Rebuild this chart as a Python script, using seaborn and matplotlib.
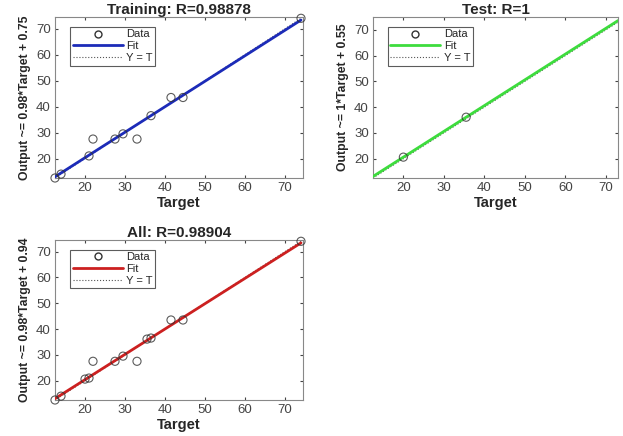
import numpy as np
import pandas as pd
import matplotlib
matplotlib.use("Agg")
import matplotlib.pyplot as plt
import seaborn as sns

# regression data
train_target = [12.5, 14.0, 21.0, 22.0, 27.5, 29.5, 33.0, 36.5, 41.5, 44.5, 74.0]
train_output = [12.5, 14.0, 21.0, 27.5, 27.5, 29.5, 27.5, 36.5, 43.5, 43.5, 74.0]
test_target = [20.0, 35.5]
test_output = [20.6, 36.1]

titles = ["Training: R=0.98878", "Test: R=1", "All: R=0.98904"]
ylabels = ["Output ~= 0.98*Target + 0.75", "Output ~= 1*Target + 0.55",
           "Output ~= 0.98*Target + 0.94"]
fit_colors = ["#1c2bb8", "#3ddc3d", "#cc2020"]

sns.set_style("white")
plt.rcParams["font.family"] = ["Liberation Sans", "DejaVu Sans"]

train = pd.DataFrame({"Target": train_target, "Output": train_output})
test = pd.DataFrame({"Target": test_target, "Output": test_output})
both = pd.concat([train, test], ignore_index=True)

fig = plt.figure(figsize=(6.23, 4.36), dpi=100)
W, H = 623, 436
boxes = [(55, 17, 303, 178), (373, 17, 618, 178), (55, 240, 303, 400)]
frames = [train, test, both]
xlims = [(12.5, 74.5), (12.5, 73), (12.5, 74.5)]
ylims = [(12.5, 74.5), (12.5, 75), (12.5, 74.5)]

for i, (df, box) in enumerate(zip(frames, boxes)):
    l, t, r, b = box
    ax = fig.add_axes([l / W, 1 - b / H, (r - l) / W, (b - t) / H])
    ax.set_xlim(*xlims[i])
    ax.set_ylim(*ylims[i])
    lo, hi = xlims[i]
    sns.regplot(data=df, x="Target", y="Output", ax=ax, ci=None,
                truncate=(i != 1),
                scatter_kws=dict(s=34, facecolors="none", edgecolors="#333333",
                                 linewidths=0.8, zorder=4, clip_on=False),
                line_kws=dict(color=fit_colors[i], lw=2, zorder=3))
    ax.plot([lo, hi], [lo, hi], ls=":", color="#555555", lw=0.8, zorder=2)
    ax.set_xlim(*xlims[i])
    ax.set_ylim(*ylims[i])
    ax.set_xticks([20, 30, 40, 50, 60, 70])
    ax.set_yticks([20, 30, 40, 50, 60, 70])
    ax.tick_params(labelsize=9.5, colors="#444444", length=2, direction="in",
                   top=True, right=True, bottom=True, left=True, pad=3)
    for s in ax.spines.values():
        s.set_color("#888888")
        s.set_linewidth(0.8)
    ax.set_title(titles[i], fontsize=11, fontweight="bold", pad=2)
    ax.set_xlabel("Target", fontsize=10.5, fontweight="bold", labelpad=1)
    ax.set_ylabel(ylabels[i], fontsize=8.8, fontweight="bold", labelpad=4)

    handles = [
        plt.Line2D([], [], ls="none", marker="o", mfc="none", mec="#333333", ms=5),
        plt.Line2D([], [], color=fit_colors[i], lw=2),
        plt.Line2D([], [], color="#555555", ls=":", lw=0.8),
    ]
    leg = ax.legend(handles, ["Data", "Fit", "Y = T"], loc="upper left",
                    fontsize=8, frameon=True, fancybox=False, borderpad=0.25,
                    labelspacing=0.15, handlelength=4.5, handletextpad=0.3,
                    borderaxespad=0, bbox_to_anchor=(0.06, 0.94))
    leg.get_frame().set_edgecolor("#333333")
    leg.get_frame().set_linewidth(0.8)

fig.savefig("out.png", dpi=100)
